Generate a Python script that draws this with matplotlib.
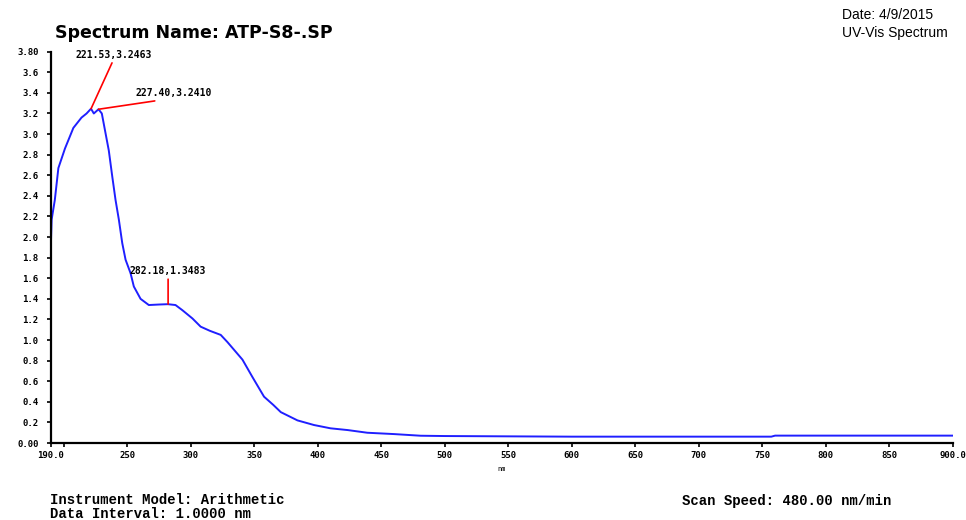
import numpy as np
import matplotlib
matplotlib.use("Agg")
import matplotlib.pyplot as plt

# spectrum (wavelength nm, absorbance)
wavelength = [190, 190.5, 193, 195.8, 201, 207.6, 214, 218, 221.5, 223.7, 227.4,
              230, 232.9, 235.5, 238.2, 240.8, 243.4, 246.1, 248.7, 252.6, 255.2,
              260.5, 267, 275, 282, 288, 293.4, 301.3, 307.8, 315, 323.6, 328.9,
              340.7, 348.6, 357.7, 365, 370.9, 384, 397, 410, 423.5, 439, 460,
              481, 500, 550, 600, 650, 700, 750, 757, 760, 800, 850, 900]
absorbance = [1.97, 2.17, 2.36, 2.67, 2.86, 3.06, 3.16, 3.20, 3.2463, 3.20, 3.2410,
              3.20, 3.01, 2.84, 2.59, 2.36, 2.17, 1.94, 1.78, 1.65, 1.52,
              1.40, 1.34, 1.345, 1.3483, 1.34, 1.29, 1.21, 1.13, 1.09, 1.05, 0.98,
              0.81, 0.64, 0.45, 0.37, 0.30, 0.22, 0.175, 0.143, 0.126, 0.10, 0.087,
              0.071, 0.068, 0.065, 0.062, 0.062, 0.062, 0.062, 0.062, 0.072, 0.072, 0.072, 0.072]

peak_nm = [221.53, 227.40, 282.18]
peak_abs = [3.2463, 3.2410, 1.3483]
peak_offsets = [(16, 35), (54, 8), (0, 20)]

x_ticks = [190] + list(range(200, 901, 50))
x_labels = ["190.0", ""] + [str(v) for v in range(250, 900, 50)] + ["900.0"]
y_ticks = np.round(np.arange(0, 3.81, 0.2), 1)
y_labels = ["0.00"] + ["%.1f" % v for v in y_ticks[1:-1]] + ["3.80"]

mono = "DejaVu Sans Mono"

fig = plt.figure(figsize=(9.66, 5.2), dpi=100)
ax = fig.add_axes([0.0528, 0.148, 0.9337, 0.7526])

ax.plot(wavelength, absorbance, color="#1f1fff", lw=1.4)

for nm, a, off in zip(peak_nm, peak_abs, peak_offsets):
    ax.annotate("%.2f,%.4f" % (nm, a), xy=(nm, a), xytext=off,
                textcoords="offset points", fontsize=7, fontweight="bold",
                family=mono, ha="center", va="bottom",
                arrowprops=dict(arrowstyle="-", color="red", lw=1.2,
                                shrinkA=0, shrinkB=0, relpos=(0.5, 0)))

ax.set_xlim(190, 900)
ax.set_ylim(0, 3.8)
ax.set_xticks(x_ticks)
ax.set_xticklabels(x_labels)
ax.set_yticks(y_ticks)
ax.set_yticklabels(y_labels)
ax.tick_params(axis="both", length=3, width=1.2)
ax.tick_params(axis="x", pad=3)
ax.tick_params(axis="y", pad=6)
for lab in ax.get_xticklabels() + ax.get_yticklabels():
    lab.set_fontweight("bold")
    lab.set_family(mono)
    lab.set_fontsize(6.5)
for s in ["top", "right"]:
    ax.spines[s].set_visible(False)
for s in ["left", "bottom"]:
    ax.spines[s].set_linewidth(1.6)

ax.set_xlabel("nm", fontsize=5, labelpad=4, family=mono)

fig.text(0.057, 0.927, "Spectrum Name: ATP-S8-.SP", fontsize=12.5,
         family="DejaVu Sans", fontweight="bold", va="baseline")
fig.text(0.872, 0.963, "Date: 4/9/2015", fontsize=10,
         family="Liberation Sans", va="baseline")
fig.text(0.872, 0.929, "UV-Vis Spectrum", fontsize=10,
         family="Liberation Sans", va="baseline")
fig.text(0.052, 0.031, "Instrument Model: Arithmetic", fontsize=10,
         family="Liberation Mono", fontweight="bold", va="baseline")
fig.text(0.052, 0.004, "Data Interval: 1.0000 nm", fontsize=10,
         family="Liberation Mono", fontweight="bold", va="baseline")
fig.text(0.706, 0.029, "Scan Speed: 480.00 nm/min", fontsize=10,
         family="Liberation Mono", fontweight="bold", va="baseline")

fig.savefig("out.png", dpi=100)
